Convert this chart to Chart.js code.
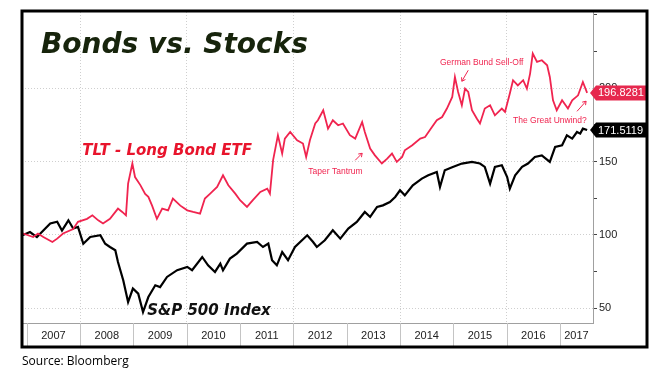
<!DOCTYPE html>
<html>
<head>
<meta charset="utf-8">
<script src="https://cdn.jsdelivr.net/npm/chart.js@4.4.0/dist/chart.umd.min.js"></script>
<style>
  html, body { margin: 0; padding: 0; background: #fff; }
  #wrap { position: relative; width: 669px; height: 376px; }
</style>
</head>
<body>
<div id="wrap"><canvas id="chart" width="669" height="376"></canvas></div>
<script>
// TLT - Long Bond ETF, rebased to 100
const tltDates = [
  2006.91, 2006.93, 2007.12, 2007.21, 2007.31, 2007.48, 2007.57, 2007.68, 2007.87, 2007.96,
  2008.13, 2008.23, 2008.34, 2008.43, 2008.56, 2008.71, 2008.79, 2008.86, 2008.90, 2008.98,
  2009.03, 2009.13, 2009.22, 2009.28, 2009.35, 2009.44, 2009.54, 2009.65, 2009.74, 2009.88,
  2010.01, 2010.12, 2010.25, 2010.34, 2010.44, 2010.57, 2010.68, 2010.78, 2010.91, 2011.00,
  2011.13, 2011.24, 2011.38, 2011.51, 2011.56, 2011.62, 2011.71, 2011.79, 2011.84, 2011.94,
  2012.07, 2012.18, 2012.24, 2012.31, 2012.41, 2012.46, 2012.56, 2012.65, 2012.74, 2012.84,
  2012.93, 2013.06, 2013.16, 2013.29, 2013.34, 2013.44, 2013.53, 2013.66, 2013.76, 2013.85,
  2013.94, 2014.04, 2014.09, 2014.23, 2014.38, 2014.47, 2014.60, 2014.69, 2014.79, 2014.88,
  2014.98, 2015.03, 2015.09, 2015.16, 2015.22, 2015.28, 2015.35, 2015.44, 2015.50, 2015.59,
  2015.69, 2015.78, 2015.91, 2015.97, 2016.06, 2016.12, 2016.21, 2016.31, 2016.38, 2016.44,
  2016.49, 2016.57, 2016.66, 2016.76, 2016.81, 2016.87, 2016.94, 2017.04, 2017.15, 2017.23,
  2017.34, 2017.43, 2017.51
];
const tltValues = [
  100, 101, 98.6, 101, 98.6, 95.2, 97.5, 101, 104, 109,
  111, 113.4, 110, 107.8, 111, 118, 115.7, 113.4, 135, 148.7,
  139.5, 134, 128, 126, 120, 111, 118, 116.8, 124.8, 120,
  116.8, 115.7, 114.6, 124.8, 128.2, 132.7, 140.7, 133.9, 128.2, 123.7,
  119.1, 123.7, 129.3, 131.6, 128.2, 151, 168, 155.5, 165.7, 170.2,
  164.6, 162.3, 153.2, 164.6, 176, 178.2, 185, 172.5, 178.2, 174.8,
  176, 168, 165.7, 177, 170.2, 158.9, 154.3, 148.7, 152, 155.5,
  149.8, 153.2, 157.7, 161.2, 165.7, 166.8, 173.6, 178.2, 180.4, 186.2,
  194.1, 207.7, 197.5, 188.4, 199.8, 197.5, 185, 179.4, 176, 186.2,
  188.4, 181.6, 186.2, 183.9, 196.4, 205.5, 202, 205.5, 199.8, 210,
  223.7, 218, 219.1, 215.7, 207.7, 191.8, 185, 191.8, 186.2, 191.8,
  195.2, 204.3, 196.8281
];

// S&P 500 Index, rebased to 100
const spxDates = [
  2006.91, 2006.93, 2007.06, 2007.19, 2007.31, 2007.44, 2007.57, 2007.66, 2007.78, 2007.87,
  2007.96, 2008.06, 2008.19, 2008.38, 2008.47, 2008.56, 2008.66, 2008.71, 2008.81, 2008.90,
  2008.99, 2009.09, 2009.18, 2009.28, 2009.41, 2009.50, 2009.63, 2009.82, 2010.01, 2010.10,
  2010.29, 2010.40, 2010.53, 2010.63, 2010.68, 2010.81, 2010.94, 2011.13, 2011.32, 2011.43,
  2011.53, 2011.60, 2011.69, 2011.79, 2011.90, 2012.03, 2012.26, 2012.37, 2012.44, 2012.59,
  2012.74, 2012.88, 2013.03, 2013.19, 2013.34, 2013.44, 2013.57, 2013.68, 2013.81, 2013.91,
  2014.00, 2014.09, 2014.24, 2014.41, 2014.53, 2014.69, 2014.75, 2014.84, 2014.99, 2015.16,
  2015.35, 2015.50, 2015.59, 2015.69, 2015.78, 2015.91, 2016.01, 2016.06, 2016.16, 2016.29,
  2016.40, 2016.53, 2016.66, 2016.81, 2016.91, 2017.04, 2017.13, 2017.23, 2017.32, 2017.38,
  2017.43, 2017.51
];
const spxValues = [
  100.7, 100, 102, 98.6, 103, 107.8, 109, 103, 110, 104.4,
  105.5, 94, 98.6, 99.8, 94, 91.8, 89.6, 81.6, 69, 54.3,
  63.5, 60, 47.5, 57.7, 65.7, 64.5, 71.4, 76, 78.2, 76,
  85, 79.3, 74.8, 80.5, 75.9, 83.9, 87.3, 94.1, 95.2, 91.8,
  94.1, 82.8, 79.3, 88.4, 82.8, 91.8, 99.8, 95.2, 91.8, 96.4,
  103.2, 97.5, 104.4, 108.9, 115.7, 112.3, 119.1, 120.2, 122.5, 125.9,
  130.5, 127, 133.9, 138.4, 140.7, 143, 132.7, 144.1, 146.4, 148.7,
  149.8, 148.7, 146.4, 135, 146.4, 147.5, 139.5, 131.6, 140.7, 146.4,
  148.7, 153.2, 154.3, 149.8, 160, 161.2, 168, 165.7, 170.2, 169.1,
  172.5, 171.5119
];

const yearTicks = [2007, 2008, 2009, 2010, 2011, 2012, 2013, 2014, 2015, 2016, 2017];
const gridYears = [2008, 2010, 2012, 2014, 2016];
const yTicks = [50, 75, 100, 125, 150, 175, 200, 225, 250];

const X_MIN = 2006.91, X_MAX = 2017.62;
const RED = '#f0244f';
const TEXT_RED = '#e8142c';

// mid-year positions for the year labels
const yearMids = yearTicks.map(y => Math.min(y + 0.5, (y + X_MAX) / 2));

// notes in data coordinates
const notes = [
  { text: 'Taper Tantrum', x: 2012.28, y: 143.4, arrow: [2013.16, 150.9, 2013.29, 155.7] },
  { text: 'German Bund Sell-Off', x: 2014.75, y: 217.7, arrow: [2015.28, 212.3, 2015.16, 204.8] },
  { text: 'The Great Unwind?', x: 2016.12, y: 178.2, arrow: [2017.32, 184.3, 2017.49, 191.2] }
];

function arrowLine(ctx, x1, y1, x2, y2) {
  const a = Math.atan2(y2 - y1, x2 - x1);
  ctx.beginPath();
  ctx.moveTo(x1, y1);
  ctx.lineTo(x2, y2);
  ctx.moveTo(x2, y2);
  ctx.lineTo(x2 - 4 * Math.cos(a - 0.6), y2 - 4 * Math.sin(a - 0.6));
  ctx.moveTo(x2, y2);
  ctx.lineTo(x2 - 4 * Math.cos(a + 0.6), y2 - 4 * Math.sin(a + 0.6));
  ctx.stroke();
}

function valueTag(ctx, y, text, color) {
  ctx.fillStyle = color;
  ctx.beginPath();
  ctx.moveTo(590, y);
  ctx.lineTo(596, y - 7.5);
  ctx.lineTo(647, y - 7.5);
  ctx.lineTo(647, y + 7.5);
  ctx.lineTo(596, y + 7.5);
  ctx.closePath();
  ctx.fill();
  ctx.fillStyle = '#fff';
  ctx.font = '11px "Liberation Sans"';
  ctx.textAlign = 'left';
  ctx.textBaseline = 'middle';
  ctx.fillText(text, 598, y + 0.5);
}

const decorations = {
  id: 'decorations',
  afterDraw(chart) {
    const ctx = chart.ctx;
    const xs = chart.scales.x, ys = chart.scales.y;
    const area = chart.chartArea;
    ctx.save();

    // year separators in the axis band
    ctx.strokeStyle = '#c4c4c4';
    ctx.lineWidth = 1;
    yearTicks.forEach(y => {
      const px = Math.round(xs.getPixelForValue(y)) + 0.5;
      ctx.beginPath();
      ctx.moveTo(px, area.bottom);
      ctx.lineTo(px, area.bottom + 24);
      ctx.stroke();
    });

    // series labels
    ctx.textAlign = 'left';
    ctx.textBaseline = 'alphabetic';
    ctx.font = 'italic bold 15px "DejaVu Sans"';
    ctx.fillStyle = TEXT_RED;
    ctx.fillText('TLT - Long Bond ETF', xs.getPixelForValue(2008.04), ys.getPixelForValue(154.3));
    ctx.fillStyle = '#111';
    ctx.fillText('S&P 500 Index', xs.getPixelForValue(2009.26), ys.getPixelForValue(45.7));

    // small notes
    ctx.font = '8.5px "Liberation Sans"';
    ctx.textBaseline = 'middle';
    ctx.fillStyle = RED;
    ctx.strokeStyle = RED;
    ctx.lineWidth = 1;
    notes.forEach(n => {
      ctx.fillText(n.text, xs.getPixelForValue(n.x), ys.getPixelForValue(n.y));
      const a = n.arrow;
      arrowLine(ctx, xs.getPixelForValue(a[0]), ys.getPixelForValue(a[1]),
        xs.getPixelForValue(a[2]), ys.getPixelForValue(a[3]));
    });

    // last value tags
    valueTag(ctx, ys.getPixelForValue(tltValues[tltValues.length - 1]), '196.8281', '#e6284e');
    valueTag(ctx, ys.getPixelForValue(spxValues[spxValues.length - 1]), '171.5119', '#000');

    // title
    ctx.font = 'italic bold 28px "DejaVu Sans"';
    ctx.fillStyle = '#17240c';
    ctx.textBaseline = 'alphabetic';
    ctx.fillText('Bonds vs. Stocks', 41, 53);

    // frame
    ctx.strokeStyle = '#000';
    ctx.lineWidth = 3;
    ctx.strokeRect(22, 11, 625, 336);

    // source
    ctx.font = '12px "Open Sans"';
    ctx.fillStyle = '#000';
    ctx.textBaseline = 'middle';
    ctx.fillText('Source: Bloomberg', 22, 362);
    ctx.restore();
  }
};

new Chart(document.getElementById('chart'), {
  type: 'line',
  data: {
    datasets: [
      {
        label: 'TLT',
        data: tltDates.map((d, i) => ({ x: d, y: tltValues[i] })),
        borderColor: RED,
        borderWidth: 1.8,
        pointRadius: 0,
        tension: 0
      },
      {
        label: 'S&P 500',
        data: spxDates.map((d, i) => ({ x: d, y: spxValues[i] })),
        borderColor: '#000',
        borderWidth: 2.2,
        pointRadius: 0,
        tension: 0
      }
    ]
  },
  options: {
    responsive: false,
    animation: false,
    devicePixelRatio: 1,
    layout: { padding: { left: 22, top: 12, right: 21, bottom: 29 } },
    plugins: { legend: { display: false }, tooltip: { enabled: false } },
    scales: {
      x: {
        type: 'linear',
        min: X_MIN,
        max: X_MAX,
        afterBuildTicks: s => {
          s.ticks = yearTicks.concat(yearMids).sort((a, b) => a - b).map(v => ({ value: v }));
        },
        afterFit: s => { s.height = 24; },
        grid: {
          drawTicks: false,
          color: c => (c.tick && gridYears.includes(c.tick.value)) ? '#cfcfcf' : 'rgba(0,0,0,0)'
        },
        border: { display: true, color: '#a0a0a0', dash: [1, 2] },
        ticks: {
          autoSkip: false,
          maxRotation: 0,
          padding: 6,
          color: '#222',
          font: { family: 'Liberation Sans', size: 11 },
          callback: v => Number.isInteger(v) ? '' : String(Math.floor(v))
        }
      },
      y: {
        position: 'right',
        min: 40,
        max: 252,
        afterBuildTicks: s => { s.ticks = yTicks.map(v => ({ value: v })); },
        afterFit: s => { s.width = 55; },
        grid: {
          color: c => (c.tick && c.tick.value % 50 === 0 && c.tick.value < 250) ? '#cfcfcf' : 'rgba(0,0,0,0)',
          tickColor: '#444',
          tickLength: 4
        },
        border: { display: true, color: '#a0a0a0', dash: [1, 2] },
        ticks: {
          padding: 2,
          color: '#222',
          font: { family: 'Liberation Sans', size: 11 },
          callback: v => (v % 50 === 0 && v < 250) ? String(v) : ''
        }
      }
    }
  },
  plugins: [decorations]
});
</script>
</body>
</html>
